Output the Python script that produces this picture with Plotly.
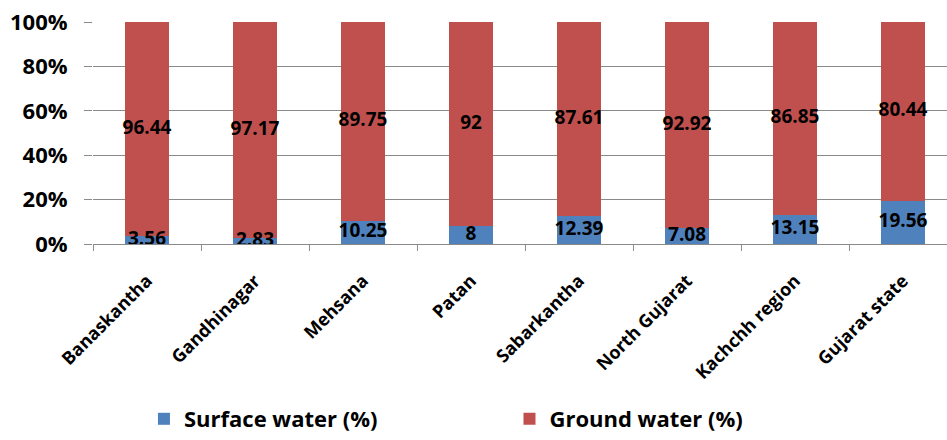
import plotly.graph_objects as go

# Share of water supply by source, per district / region
regions = ["Banaskantha", "Gandhinagar", "Mehsana", "Patan", "Sabarkantha",
           "North Gujarat", "Kachchh region", "Gujarat state"]
surface_water = [3.56, 2.83, 10.25, 8, 12.39, 7.08, 13.15, 19.56]
ground_water = [96.44, 97.17, 89.75, 92, 87.61, 92.92, 86.85, 80.44]
y_ticks = [0, 20, 40, 60, 80, 100]
y_tick_labels = ["0%", "20%", "40%", "60%", "80%", "100%"]

BLUE = "#4F81BD"
RED = "#C0504D"
GRID = "#8A8A8A"
FONT = "Open Sans"

fig = go.Figure()
fig.add_trace(go.Bar(x=regions, y=surface_water, name="Surface water (%)",
                     marker=dict(color=BLUE, line=dict(width=0)), width=0.4,
                     legend="legend"))
fig.add_trace(go.Bar(x=regions, y=ground_water, name="Ground water (%)",
                     marker=dict(color=RED, line=dict(width=0)), width=0.4,
                     legend="legend2"))

# value labels centred on each segment
label_font = dict(family=FONT, size=19, color="black", weight="bold")
fig.add_trace(go.Scatter(
    x=regions, y=[s / 2 for s in surface_water], mode="text",
    text=[f"{v:g}" for v in surface_water], showlegend=False, hoverinfo="skip",
    textfont=label_font))
fig.add_trace(go.Scatter(
    x=regions, y=[s + g / 2 for s, g in zip(surface_water, ground_water)],
    mode="text", text=[f"{v:g}" for v in ground_water], showlegend=False,
    hoverinfo="skip", textfont=label_font))

legend_font = dict(family=FONT, size=22, color="black", weight="bold")

fig.update_layout(
    barmode="stack",
    width=947, height=440,
    margin=dict(l=93, r=0, t=22, b=196),
    plot_bgcolor="white", paper_bgcolor="white",
    font=dict(family=FONT, color="black"),
    xaxis=dict(
        range=[-0.5, 7.407], tickangle=-45, tickson="boundaries",
        ticks="outside", ticklen=6, tickcolor=GRID, tickwidth=1.3,
        showline=True, linecolor=GRID, linewidth=1.3, showgrid=False,
        ticklabelstandoff=18,
        tickfont=dict(family=FONT, size=18, color="black", weight="bold"),
    ),
    yaxis=dict(
        range=[0, 100], tickmode="array", tickvals=y_ticks,
        ticktext=y_tick_labels,
        ticks="outside", ticklen=8, tickcolor=GRID, tickwidth=1.3,
        showgrid=True, gridcolor=GRID, gridwidth=1.3, zeroline=False,
        showline=False, ticklabelstandoff=12,
        tickfont=dict(family=FONT, size=22, color="black", weight="bold"),
    ),
    legend=dict(orientation="h", xref="container", yref="container",
                x=0.152, y=-0.014, xanchor="left", yanchor="bottom",
                entrywidth=300, font=legend_font),
    legend2=dict(orientation="h", xref="container", yref="container",
                 x=0.538, y=-0.014, xanchor="left", yanchor="bottom",
                 entrywidth=300, font=legend_font),
)

fig.write_html("out.html")
